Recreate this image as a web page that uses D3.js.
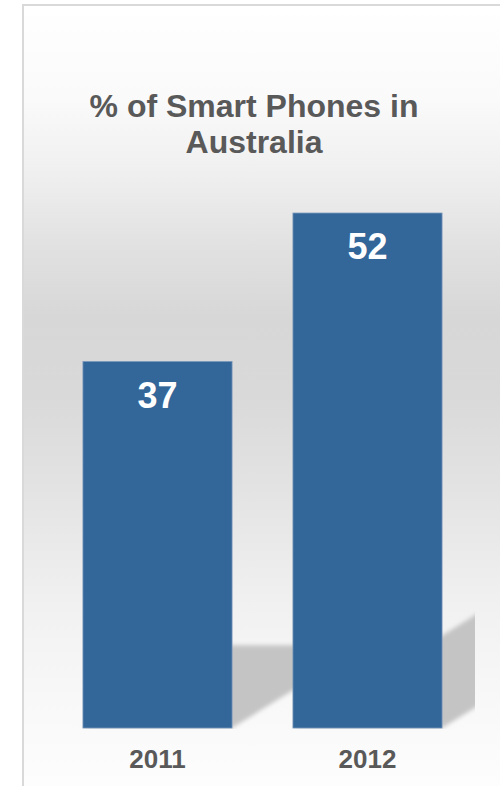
<!DOCTYPE html>
<html>
<head>
<meta charset="utf-8">
<script src="https://cdn.jsdelivr.net/npm/d3@7"></script>
<style>
  html, body { margin: 0; padding: 0; background: #ffffff; }
  svg { display: block; }
</style>
</head>
<body>
<svg id="chart" width="500" height="786"></svg>
<script>
// ---- data ----
const categories = ["2011", "2012"];
const values = [37, 52];
const titleLines = ["% of Smart Phones in", "Australia"];

// ---- layout ----
const W = 500, H = 786;
const svg = d3.select("#chart");
const defs = svg.append("defs");

// background gradient
const bg = defs.append("linearGradient")
  .attr("id", "bgGrad").attr("x1", 0).attr("y1", 0).attr("x2", 0).attr("y2", 1)
  .attr("gradientUnits", "userSpaceOnUse")
  .attr("y1", 5).attr("y2", 786);
[[0, "#ffffff"], [0.12, "#fafafa"], [0.21, "#f0f0f0"], [0.31, "#e1e1e1"], [0.40, "#d7d7d7"],
 [0.50, "#d9d9d9"], [0.63, "#e4e4e4"], [0.77, "#f1f1f1"], [0.89, "#f8f8f8"], [1, "#fdfdfd"]]
  .forEach(([o, c]) => bg.append("stop").attr("offset", o).attr("stop-color", c));

svg.append("rect").attr("x", 23).attr("y", 5).attr("width", W).attr("height", H)
  .attr("fill", "url(#bgGrad)").attr("stroke", "#d9d9d9").attr("stroke-width", 2);

// scales
const x = d3.scaleBand().domain(categories).range([52.5, 472.5])
  .paddingInner(0.29).paddingOuter(0.145);
const y = d3.scaleLinear().domain([0, 60]).range([728, 133.8]);
const base = y(0);

// shadow filter and clip
const blur = defs.append("filter").attr("id", "blur").attr("x", -0.2).attr("y", -0.2)
  .attr("width", 1.4).attr("height", 1.4);
blur.append("feGaussianBlur").attr("stdDeviation", 2);
defs.append("clipPath").attr("id", "plotClip")
  .append("rect").attr("x", 24).attr("y", 6).attr("width", 451).attr("height", 723);

const k = 0.365, s = 0.226;
svg.append("g").attr("clip-path", "url(#plotClip)")
  .selectAll("path.shadow").data(categories).join("path")
  .attr("class", "shadow")
  .attr("d", (d, i) => {
    const x0 = x(d), x1 = x(d) + x.bandwidth(), h = base - y(values[i]);
    return `M${x0},${base}L${x1},${base}L${x1 + k * h},${base - s * h}L${x0 + k * h},${base - s * h}Z`;
  })
  .attr("fill", "#c4c4c4")
  .attr("filter", "url(#blur)");

// bars
svg.selectAll("rect.bar").data(categories).join("rect")
  .attr("class", "bar")
  .attr("x", d => x(d))
  .attr("y", (d, i) => y(values[i]))
  .attr("width", x.bandwidth())
  .attr("height", (d, i) => base - y(values[i]))
  .attr("fill", "#336699")
  .attr("stroke", "#7895ba").attr("stroke-width", 0.8);

// value labels
svg.selectAll("text.val").data(categories).join("text")
  .attr("class", "val")
  .attr("x", d => x(d) + x.bandwidth() / 2)
  .attr("y", (d, i) => y(values[i]) + 46)
  .attr("text-anchor", "middle")
  .attr("font-family", "'Liberation Sans', Arial, sans-serif")
  .attr("font-weight", "bold")
  .attr("font-size", 36)
  .attr("fill", "#ffffff")
  .text((d, i) => values[i]);

// x axis labels
const xAxis = d3.axisBottom(x).tickSize(0).tickPadding(0);
const gx = svg.append("g").attr("transform", `translate(0,${base})`).call(xAxis);
gx.select(".domain").remove();
gx.selectAll("text")
  .attr("dy", null)
  .attr("y", 40)
  .attr("font-family", "'Liberation Sans', Arial, sans-serif")
  .attr("font-weight", "bold")
  .attr("font-size", 26)
  .attr("fill", "#595959");

// title
svg.append("text")
  .attr("text-anchor", "middle")
  .attr("font-family", "'Liberation Sans', Arial, sans-serif")
  .attr("font-weight", "bold")
  .attr("font-size", 32)
  .attr("fill", "#595959")
  .selectAll("tspan").data(titleLines).join("tspan")
  .attr("x", 254)
  .attr("y", (d, i) => 117 + i * 36)
  .text(d => d);
</script>
</body>
</html>
